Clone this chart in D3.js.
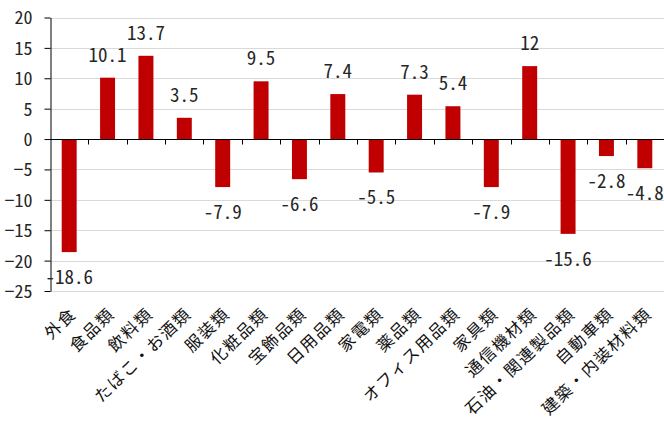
<!DOCTYPE html>
<html>
<head>
<meta charset="utf-8">
<script src="https://cdn.jsdelivr.net/npm/d3@7"></script>
<style>
  html, body { margin: 0; padding: 0; background: #fff; }
  svg text { font-family: "Noto Sans CJK JP", sans-serif; }
  svg text.num { font-feature-settings: "hwid" 1; }
</style>
</head>
<body>
<svg id="chart" width="664" height="421"></svg>
<script>
// Year-on-year change by product category (%)
const categories = ["外食", "食品類", "飲料類", "たばこ・お酒類", "服装類", "化粧品類", "宝飾品類", "日用品類",
  "家電類", "薬品類", "オフィス用品類", "家具類", "通信機材類", "石油・関連製品類", "自動車類", "建築・内装材料類"];
const values = [-18.6, 10.1, 13.7, 3.5, -7.9, 9.5, -6.6, 7.4, -5.5, 7.3, 5.4, -7.9, 12, -15.6, -2.8, -4.8];
const valueLabels = ["-18.6", "10.1", "13.7", "3.5", "-7.9", "9.5", "-6.6", "7.4", "-5.5", "7.3", "5.4", "-7.9", "12", "-15.6", "-2.8", "-4.8"];
const yTicks = [20, 15, 10, 5, 0, -5, -10, -15, -20, -25];

const svg = d3.select("#chart");
const plotLeft = 50, plotRight = 664, plotTop = 17.5, plotBottom = 291;

const x = d3.scaleBand().domain(categories).range([plotLeft, plotRight]).paddingInner(0.61).paddingOuter(0.305);
const y = d3.scaleLinear().domain([-25, 20]).range([plotBottom, plotTop]);

// horizontal gridlines
svg.append("g").selectAll("line")
  .data(yTicks.filter(d => d !== 0))
  .join("line")
  .attr("x1", plotLeft).attr("x2", plotRight)
  .attr("y1", d => Math.round(y(d)) + 0.5).attr("y2", d => Math.round(y(d)) + 0.5)
  .attr("stroke", "#d9d9d9").attr("stroke-width", 1);

// bars
svg.append("g").selectAll("rect")
  .data(values)
  .join("rect")
  .attr("x", (d, i) => x(categories[i]))
  .attr("width", x.bandwidth())
  .attr("y", d => y(Math.max(0, d)))
  .attr("height", d => Math.abs(y(d) - y(0)))
  .attr("fill", "#c00000");

// y axis
const yAxis = svg.append("g")
  .attr("transform", `translate(${plotLeft + 0.5},0)`)
  .call(d3.axisLeft(y).tickValues(yTicks).tickSize(6).tickPadding(12).tickSizeOuter(0));
yAxis.select(".domain").attr("stroke", "#000");
yAxis.selectAll(".tick line").attr("stroke", "#000");
yAxis.selectAll(".tick text")
  .attr("class", "num")
  .attr("fill", "#262626")
  .style("font-size", "18px")
  .attr("dy", "0.36em");

// zero line with category boundary ticks
const zeroY = Math.round(y(0)) + 0.5;
svg.append("line")
  .attr("x1", plotLeft).attr("x2", plotRight)
  .attr("y1", zeroY).attr("y2", zeroY)
  .attr("stroke", "#000");
const bounds = categories.slice(1).map(c => x(c) - x.step() * x.paddingInner() / 2);
svg.append("g").selectAll("line")
  .data(bounds)
  .join("line")
  .attr("x1", d => Math.round(d) + 0.5).attr("x2", d => Math.round(d) + 0.5)
  .attr("y1", zeroY).attr("y2", zeroY + 5)
  .attr("stroke", "#000");

// value labels
svg.append("g").selectAll("text")
  .data(values)
  .join("text")
  .attr("class", "num")
  .attr("x", (d, i) => x(categories[i]) + x.bandwidth() / 2)
  .attr("y", d => d >= 0 ? y(d) - 16 : y(d) + 32)
  .attr("text-anchor", "middle")
  .attr("fill", "#262626")
  .style("font-size", "19px")
  .text((d, i) => valueLabels[i]);

// rotated category labels
svg.append("g").selectAll("text")
  .data(categories)
  .join("text")
  .attr("transform", d => `translate(${x(d) + x.bandwidth() / 2 + 4},${plotBottom + 20}) rotate(-44)`)
  .attr("text-anchor", "end")
  .attr("dy", "0.35em")
  .attr("fill", "#111")
  .style("font-size", "16.5px")
  .style("letter-spacing", "1.6px")
  .text(d => d);
</script>
</body>
</html>
